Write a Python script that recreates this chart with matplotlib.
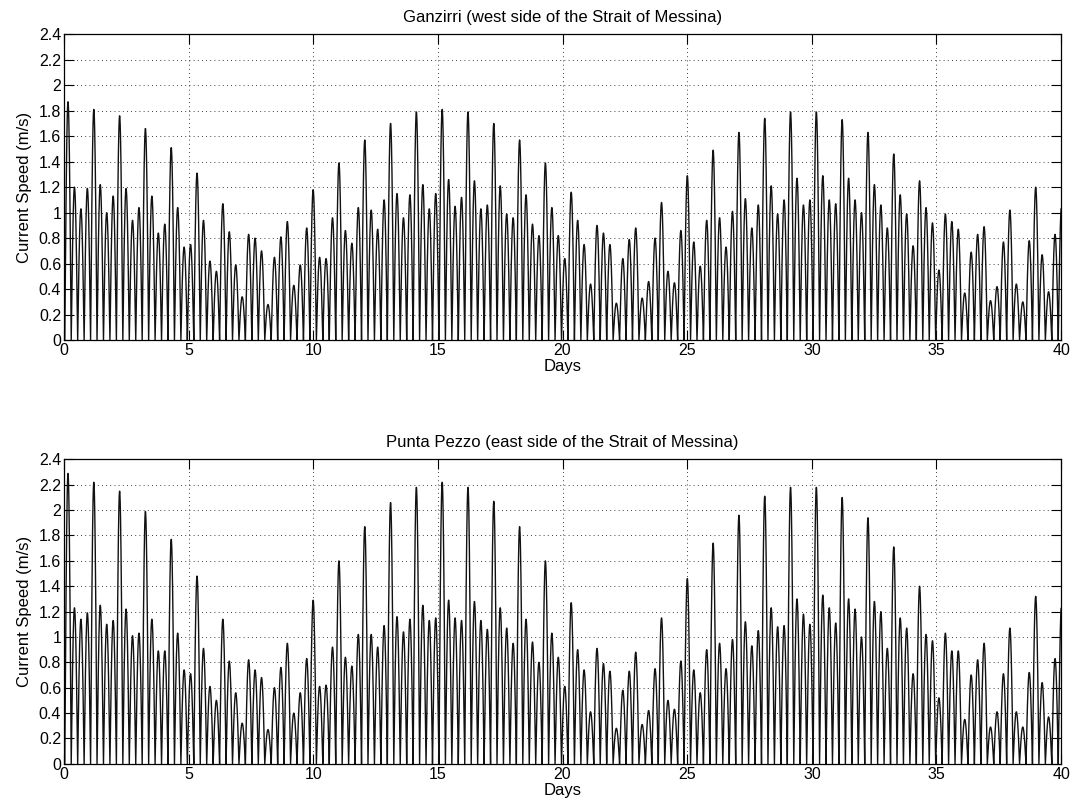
import numpy as np
import matplotlib
matplotlib.use('Agg')
from matplotlib import pyplot as plt
from matplotlib.ticker import FormatStrFormatter

# peak current speed of each half tidal cycle (m/s)
ganzirri_peaks = [
    1.87, 1.20, 1.03, 1.19, 1.81, 1.22, 1.00, 1.13, 1.76, 1.19,
    0.94, 1.04, 1.66, 1.13, 0.84, 0.91, 1.51, 1.04, 0.73, 0.75,
    1.31, 0.94, 0.62, 0.54, 1.07, 0.85, 0.59, 0.34, 0.83, 0.80,
    0.70, 0.28, 0.65, 0.81, 0.93, 0.43, 0.59, 0.88, 1.18, 0.65,
    0.64, 0.96, 1.39, 0.86, 0.76, 1.04, 1.57, 1.02, 0.87, 1.10,
    1.70, 1.15, 0.96, 1.14, 1.79, 1.22, 1.03, 1.15, 1.81, 1.26,
    1.05, 1.12, 1.79, 1.25, 1.03, 1.06, 1.70, 1.21, 0.99, 0.96,
    1.57, 1.14, 0.91, 0.82, 1.39, 1.04, 0.82, 0.64, 1.16, 0.94,
    0.75, 0.44, 0.90, 0.84, 0.75, 0.29, 0.64, 0.79, 0.88, 0.33,
    0.46, 0.80, 1.08, 0.54, 0.45, 0.86, 1.29, 0.77, 0.58, 0.94,
    1.49, 0.96, 0.73, 1.01, 1.63, 1.11, 0.88, 1.06, 1.74, 1.21,
    0.99, 1.10, 1.79, 1.27, 1.06, 1.10, 1.79, 1.29, 1.10, 1.07,
    1.73, 1.27, 1.10, 1.00, 1.63, 1.22, 1.06, 0.88, 1.46, 1.14,
    0.99, 0.74, 1.25, 1.04, 0.92, 0.55, 0.99, 0.93, 0.87, 0.37,
    0.69, 0.83, 0.89, 0.31, 0.42, 0.77, 1.02, 0.44, 0.30, 0.78,
    1.20, 0.67, 0.38, 0.83, 1.05]

pezzo_peaks = [
    2.29, 1.23, 1.14, 1.19, 2.22, 1.25, 1.10, 1.13, 2.15, 1.22,
    1.01, 1.03, 1.99, 1.14, 0.89, 0.89, 1.77, 1.03, 0.74, 0.71,
    1.48, 0.91, 0.61, 0.50, 1.14, 0.81, 0.56, 0.32, 0.82, 0.74,
    0.68, 0.27, 0.60, 0.76, 0.95, 0.40, 0.56, 0.83, 1.29, 0.61,
    0.62, 0.92, 1.60, 0.84, 0.77, 1.02, 1.87, 1.02, 0.92, 1.09,
    2.06, 1.16, 1.04, 1.14, 2.18, 1.25, 1.13, 1.15, 2.22, 1.29,
    1.15, 1.13, 2.18, 1.28, 1.13, 1.06, 2.07, 1.23, 1.07, 0.95,
    1.87, 1.14, 0.96, 0.80, 1.60, 1.03, 0.84, 0.61, 1.27, 0.90,
    0.74, 0.41, 0.91, 0.79, 0.73, 0.28, 0.58, 0.73, 0.88, 0.31,
    0.42, 0.75, 1.15, 0.50, 0.43, 0.81, 1.46, 0.74, 0.56, 0.90,
    1.74, 0.95, 0.75, 0.98, 1.96, 1.12, 0.93, 1.05, 2.11, 1.23,
    1.08, 1.09, 2.18, 1.30, 1.18, 1.10, 2.18, 1.33, 1.23, 1.11,
    2.10, 1.30, 1.22, 1.00, 1.94, 1.28, 1.20, 0.91, 1.71, 1.15,
    1.07, 0.71, 1.40, 1.02, 0.97, 0.52, 1.03, 0.89, 0.89, 0.35,
    0.70, 0.82, 0.95, 0.29, 0.41, 0.71, 1.07, 0.41, 0.29, 0.72,
    1.32, 0.64, 0.37, 0.83, 1.25]

first_peak_day = 0.16
half_cycle = 0.2588   # days between speed peaks (half M2 period)

titles = ['Ganzirri (west side of the Strait of Messina)',
          'Punta Pezzo (east side of the Strait of Messina)']


def speed_curve(peaks):
    # each half cycle drawn as a rectified arch through its peak
    tt, vv = [], []
    for i, p in enumerate(peaks):
        tc = first_peak_day + i * half_cycle
        t = np.linspace(tc - half_cycle / 2, tc + half_cycle / 2, 40)
        tt.append(t)
        vv.append(p * np.abs(np.sin(np.pi * (t - tc + half_cycle / 2) / half_cycle)))
    tt = np.concatenate(tt)
    vv = np.concatenate(vv)
    m = (tt >= 0) & (tt <= 40)
    return tt[m], vv[m]


plt.rcParams['font.family'] = ['Liberation Sans', 'DejaVu Sans']
plt.rcParams['font.size'] = 12

fig = plt.figure(figsize=(10.74, 8.10), dpi=100)
boxes = [[0.0596, 0.580, 0.9284, 0.378], [0.0596, 0.057, 0.9284, 0.376]]

for box, peaks, title in zip(boxes, [ganzirri_peaks, pezzo_peaks], titles):
    ax = fig.add_axes(box)
    t, v = speed_curve(peaks)
    ax.plot(t, v, color='#111111', lw=1.0)
    ax.set_xlim(0, 40)
    ax.set_ylim(0, 2.4)
    ax.set_xticks(np.arange(0, 41, 5))
    ax.set_yticks(np.arange(0, 2.41, 0.2))
    ax.yaxis.set_major_formatter(FormatStrFormatter('%g'))
    ax.grid(True, color='k', linestyle=(0, (1, 4)), linewidth=0.6)
    ax.tick_params(direction='in', top=True, right=True, length=7,
                   width=0.8, labelsize=11.5, pad=2)
    for s in ax.spines.values():
        s.set_linewidth(0.9)
    ax.set_title(title, fontsize=12, pad=9)
    ax.set_xlabel('Days', fontsize=12, labelpad=1)
    ax.set_ylabel('Current Speed (m/s)', fontsize=12, labelpad=5)

plt.savefig('out.png', dpi=100)
